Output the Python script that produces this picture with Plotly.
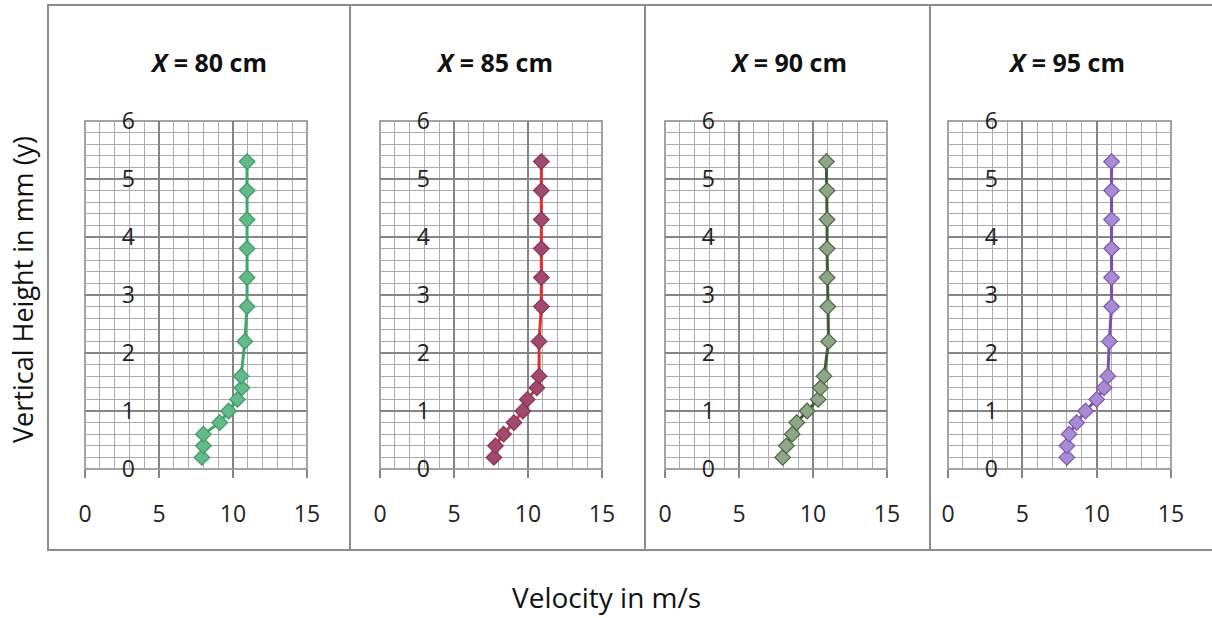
import plotly.graph_objects as go

W, H = 1212, 618

heights = [0.2, 0.4, 0.6, 0.8, 1.0, 1.2, 1.4, 1.6, 2.2, 2.8, 3.3, 3.8, 4.3, 4.8, 5.3]
vel_80 = [7.9, 8.0, 8.0, 9.1, 9.7, 10.3, 10.6, 10.55, 10.8, 10.95, 10.95, 10.95, 10.95, 10.95, 10.95]
vel_85 = [7.7, 7.8, 8.35, 9.05, 9.65, 9.95, 10.6, 10.75, 10.75, 10.9, 10.9, 10.9, 10.9, 10.9, 10.9]
vel_90 = [7.95, 8.2, 8.6, 8.9, 9.6, 10.35, 10.5, 10.75, 11.05, 11.0, 10.95, 10.95, 10.95, 10.95, 10.9]
vel_95 = [8.0, 8.0, 8.15, 8.65, 9.25, 10.0, 10.5, 10.75, 10.85, 11.0, 11.0, 11.0, 11.0, 11.0, 11.0]

titles = ["X = 80 cm", "X = 85 cm", "X = 90 cm", "X = 95 cm"]
series = [vel_80, vel_85, vel_90, vel_95]
line_colors = ["#3daa6a", "#e0312f", "#3e5c34", "#7b4fb3"]
marker_fill = ["#63b98a", "#a04a70", "#8ea887", "#a98bd3"]
marker_edge = ["#3a9a60", "#8c3050", "#4a6440", "#7c56b0"]

x_ticks = [0, 5, 10, 15]
y_ticks = [0, 1, 2, 3, 4, 5, 6]

# pixel layout of the four plot areas
px_left = [85, 380, 665, 948]
px_right = [307, 602, 887, 1171]
px_top, px_bottom = 121, 469
title_cx = [208, 495, 788, 1066]
separators = [350, 645, 930]

FONT = "Open Sans"
GRID_MAJ = "#858585"
GRID_MIN = "#ababab"

fig = go.Figure()
for i in range(4):
    xa = "x" if i == 0 else f"x{i+1}"
    ya = "y" if i == 0 else f"y{i+1}"
    fig.add_trace(go.Scatter(
        x=series[i], y=heights, xaxis=xa, yaxis=ya, mode="lines+markers",
        line=dict(color=line_colors[i], width=3),
        marker=dict(symbol="diamond", size=12, color=marker_fill[i],
                    line=dict(color=marker_edge[i], width=1.2)),
        showlegend=False, hoverinfo="x+y"))

layout = dict(
    width=W, height=H, margin=dict(l=0, r=0, t=0, b=0, autoexpand=False),
    paper_bgcolor="white", plot_bgcolor="white", autosize=False,
    font=dict(family=FONT, color="#222222"),
)
for i in range(4):
    xk = "xaxis" if i == 0 else f"xaxis{i+1}"
    yk = "yaxis" if i == 0 else f"yaxis{i+1}"
    xa = "x" if i == 0 else f"x{i+1}"
    ya = "y" if i == 0 else f"y{i+1}"
    layout[xk] = dict(
        domain=[px_left[i] / W, px_right[i] / W], anchor=ya, range=[0, 15],
        tickvals=x_ticks, ticktext=[str(t) for t in x_ticks],
        showgrid=True, gridcolor=GRID_MAJ, gridwidth=1.5,
        minor=dict(dtick=1, showgrid=True, gridcolor=GRID_MIN, gridwidth=1,
                   ticks=""),
        showline=False, automargin=False,
        ticks="outside", ticklen=8, tickcolor=GRID_MAJ, tickwidth=1.5,
        ticklabelstandoff=16,
        tickfont=dict(family=FONT, size=23, color="#222222"),
        zeroline=False, fixedrange=True)
    layout[yk] = dict(
        domain=[1 - px_bottom / H, 1 - px_top / H], anchor="free",
        position=(px_left[i] + 50) / W, range=[0, 6],
        tickvals=y_ticks, ticktext=[str(t) for t in y_ticks],
        showgrid=True, gridcolor=GRID_MAJ, gridwidth=1.5,
        minor=dict(dtick=0.2, showgrid=True, gridcolor=GRID_MIN, gridwidth=1,
                   ticks=""),
        showline=False, ticks="", automargin=False,
        tickfont=dict(family=FONT, size=23, color="#222222"),
        zeroline=False, fixedrange=True)
fig.update_layout(**layout)

shapes = [dict(type="rect", xref="paper", yref="paper",
               x0=48 / W, x1=1216 / W, y0=1 - 550 / H, y1=1 - 5 / H,
               line=dict(color="#8c8c8c", width=2), fillcolor="rgba(0,0,0,0)")]
for sx in separators:
    shapes.append(dict(type="line", xref="paper", yref="paper",
                       x0=sx / W, x1=sx / W, y0=1 - 550 / H, y1=1 - 5 / H,
                       line=dict(color="#8c8c8c", width=2)))
for i in range(4):
    xa = "x" if i == 0 else f"x{i+1}"
    ya = "y" if i == 0 else f"y{i+1}"
    shapes.append(dict(type="rect", xref=f"{xa} domain", yref=f"{ya} domain",
                       x0=0, x1=1, y0=0, y1=1, layer="below",
                       line=dict(color=GRID_MAJ, width=1.5),
                       fillcolor="rgba(0,0,0,0)"))
fig.update_layout(shapes=shapes)

annotations = []
for i in range(4):
    num = titles[i].split("=")[1].strip()
    annotations.append(dict(
        text=f"<b><i>X</i> = {num}</b>", xref="paper", yref="paper",
        x=title_cx[i] / W, y=1 - 62 / H, xanchor="center", yanchor="middle",
        showarrow=False, font=dict(family=FONT, size=25, color="#111111")))
annotations.append(dict(
    text="Vertical Height in mm (y)", xref="paper", yref="paper",
    x=22 / W, y=1 - 290 / H, xanchor="center", yanchor="middle",
    textangle=-90, showarrow=False,
    font=dict(family=FONT, size=27, color="#111111")))
annotations.append(dict(
    text="Velocity in m/s", xref="paper", yref="paper",
    x=606 / W, y=1 - 597 / H, xanchor="center", yanchor="middle",
    showarrow=False, font=dict(family=FONT, size=28, color="#111111")))
fig.update_layout(annotations=annotations)

fig.write_html("out.html")
